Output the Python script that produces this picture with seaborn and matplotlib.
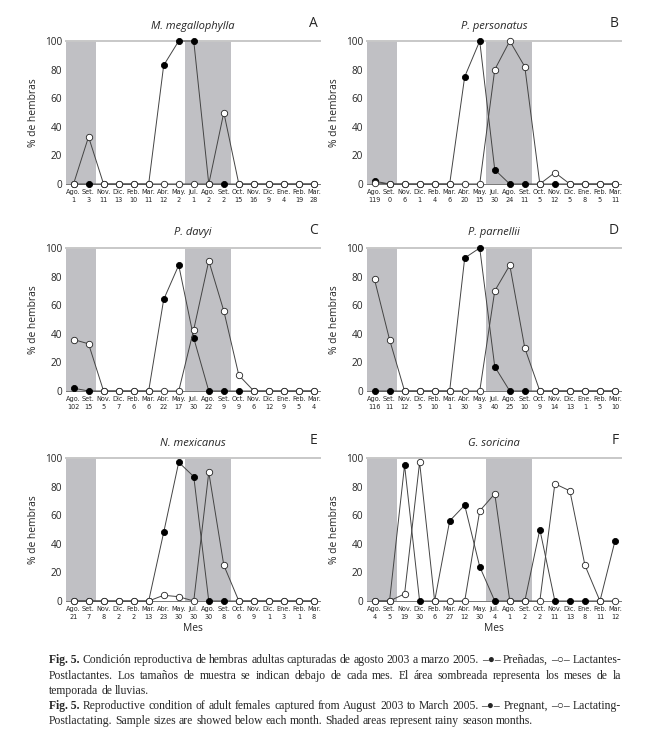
import numpy as np
import matplotlib
matplotlib.use('Agg')
import matplotlib.pyplot as plt
import seaborn as sns

# --- data ---
months = ['Ago.', 'Set.', 'Nov.', 'Dic.', 'Feb.', 'Mar.', 'Abr.', 'May.', 'Jul.',
          'Ago.', 'Set.', 'Oct.', 'Nov.', 'Dic.', 'Ene.', 'Feb.', 'Mar.']

n_mega = [1, 3, 11, 13, 10, 11, 12, 2, 1, 2, 2, 15, 16, 9, 4, 19, 28]
preg_mega = [0, 0, 0, 0, 0, 0, 83, 100, 100, 0, 0, 0, 0, 0, 0, 0, 0]
lact_mega = [0, 33, 0, 0, 0, 0, 0, 0, 0, 0, 50, 0, 0, 0, 0, 0, 0]

n_pers = [119, 0, 6, 1, 4, 6, 20, 15, 30, 24, 11, 5, 12, 5, 8, 5, 11]
preg_pers = [2, 0, 0, 0, 0, 0, 75, 100, 10, 0, 0, 0, 0, 0, 0, 0, 0]
lact_pers = [1, 0, 0, 0, 0, 0, 0, 0, 80, 100, 82, 0, 8, 0, 0, 0, 0]

n_davy = [102, 15, 5, 7, 6, 6, 22, 17, 30, 22, 9, 9, 6, 12, 9, 5, 4]
preg_davy = [2, 0, 0, 0, 0, 0, 64, 88, 37, 0, 0, 0, 0, 0, 0, 0, 0]
lact_davy = [36, 33, 0, 0, 0, 0, 0, 0, 43, 91, 56, 11, 0, 0, 0, 0, 0]

n_parn = [116, 11, 12, 5, 10, 1, 30, 3, 40, 25, 10, 9, 14, 13, 1, 5, 10]
preg_parn = [0, 0, 0, 0, 0, 0, 93, 100, 17, 0, 0, 0, 0, 0, 0, 0, 0]
lact_parn = [78, 36, 0, 0, 0, 0, 0, 0, 70, 88, 30, 0, 0, 0, 0, 0, 0]

n_mexi = [21, 7, 8, 2, 2, 13, 23, 30, 30, 30, 8, 6, 9, 1, 3, 1, 8]
preg_mexi = [0, 0, 0, 0, 0, 0, 48, 97, 87, 0, 0, 0, 0, 0, 0, 0, 0]
lact_mexi = [0, 0, 0, 0, 0, 0, 4, 3, 0, 90, 25, 0, 0, 0, 0, 0, 0]

n_sori = [4, 5, 19, 30, 6, 27, 12, 30, 4, 1, 2, 2, 11, 13, 8, 11, 12]
preg_sori = [0, 0, 95, 0, 0, 56, 67, 24, 0, 0, 0, 50, 0, 0, 0, 0, 42]
lact_sori = [0, 0, 5, 97, 0, 0, 0, 63, 75, 0, 0, 0, 82, 77, 25, 0, 0]

panels = [
    ('M. megallophylla', 'A', n_mega, preg_mega, lact_mega),
    ('P. personatus', 'B', n_pers, preg_pers, lact_pers),
    ('P. davyi', 'C', n_davy, preg_davy, lact_davy),
    ('P. parnellii', 'D', n_parn, preg_parn, lact_parn),
    ('N. mexicanus', 'E', n_mexi, preg_mexi, lact_mexi),
    ('G. soricina', 'F', n_sori, preg_sori, lact_sori),
]

# rainy season spans (x positions)
rainy = [(-0.5, 1.5), (7.45, 10.45)]

sns.set_style('white')
plt.rcParams['font.family'] = ['Open Sans', 'DejaVu Sans']

W, H = 652, 750
fig = plt.figure(figsize=(W / 100, H / 100), dpi=100)

lefts = [66, 367]
tops = [41, 248, 458]
aw, ah = 254, 143
x = np.arange(len(months))

for i, (name, letter, n, preg, lact) in enumerate(panels):
    r, c = divmod(i, 2)
    ax = fig.add_axes([lefts[c] / W, 1 - (tops[r] + ah) / H, aw / W, ah / H])
    for a, b in rainy:
        ax.axvspan(a, b, color='#c0c0c4', lw=0, zorder=0)
    sns.lineplot(x=x, y=preg, ax=ax, color='#444444', lw=0.7, marker='o',
                 markersize=4.4, markerfacecolor='black', markeredgecolor='black',
                 markeredgewidth=0.6, clip_on=False, zorder=3)
    sns.lineplot(x=x, y=lact, ax=ax, color='#444444', lw=0.7, marker='o',
                 markersize=4.6, markerfacecolor='white', markeredgecolor='#222222',
                 markeredgewidth=0.6, clip_on=False, zorder=4)
    ax.set_xlim(-0.5, 16.4)
    ax.set_ylim(0, 100)
    ax.set_yticks([0, 20, 40, 60, 80, 100])
    ax.set_xticks(x)
    ax.set_xticklabels([f'{m}\n{k}' for m, k in zip(months, n)],
                       family=['Liberation Sans Narrow', 'DejaVu Sans'],
                       fontstretch='condensed', fontsize=5.2, linespacing=1.5)
    ax.tick_params(axis='x', length=2, width=0.6, color='#666666', pad=1.5, direction='out')
    ax.tick_params(axis='y', length=0, labelsize=7.2, pad=3)
    for s in ['left', 'right']:
        ax.spines[s].set_visible(False)
    ax.spines['top'].set_color('#c8c8c8')
    ax.spines['top'].set_linewidth(1.4)
    ax.spines['bottom'].set_color('#777777')
    ax.spines['bottom'].set_linewidth(0.7)
    ax.set_ylabel('% de hembras', fontsize=7.4, labelpad=4)
    ax.set_xlabel('Mes' if r == 2 else '', fontsize=7.4, labelpad=2)
    ax.set_title(name, fontsize=8, style='italic', pad=9)
    ax.text(0.99, 1.07, letter, transform=ax.transAxes, ha='right', va='bottom', fontsize=10)

# --- caption, justified like the printed figure ---
renderer = fig.canvas.get_renderer()
cap_font = ['Liberation Serif', 'DejaVu Serif']
cap_size = 8.4
x0, x1 = 49, 621

caption_lines = [
    ([('Fig. 5.', 'bold')] + [(w, 'normal') for w in
      'Condición reproductiva de hembras adultas capturadas de agosto 2003 a marzo 2005. –●– Preñadas, –○– Lactantes-'.split(' ')], 663, True),
    ([(w, 'normal') for w in
      'Postlactantes. Los tamaños de muestra se indican debajo de cada mes. El área sombreada representa los meses de la'.split(' ')], 679, True),
    ([(w, 'normal') for w in 'temporada de lluvias.'.split(' ')], 694, False),
    ([('Fig. 5.', 'bold')] + [(w, 'normal') for w in
      'Reproductive condition of adult females captured from August 2003 to March 2005. –●– Pregnant, –○– Lactating-'.split(' ')], 709, True),
    ([(w, 'normal') for w in
      'Postlactating. Sample sizes are showed below each month. Shaded areas represent rainy season months.'.split(' ')], 724, False),
]

space = cap_size * 1.389 * 0.25

for words, ypx, justify in caption_lines:
    texts = []
    widths = []
    for w, wt in words:
        t = fig.text(0, 1 - ypx / H, w, fontsize=cap_size, family=cap_font,
                     weight=wt, va='baseline', ha='left')
        texts.append(t)
        widths.append(t.get_window_extent(renderer).width)
    if justify and len(words) > 1:
        gap = (x1 - x0 - sum(widths)) / (len(words) - 1)
    else:
        gap = space
    pos = x0
    for t, wd in zip(texts, widths):
        t.set_x(pos / W)
        pos += wd + gap

fig.savefig('out.png', dpi=100)
